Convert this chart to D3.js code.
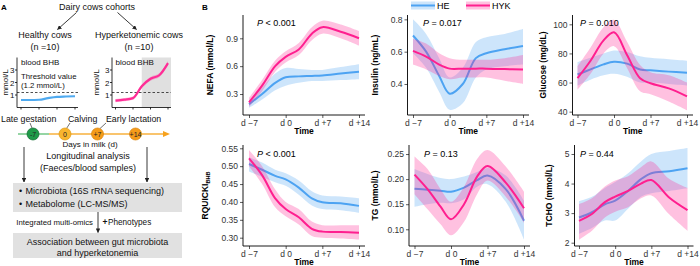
<!DOCTYPE html>
<html><head><meta charset="utf-8">
<script src="https://cdn.jsdelivr.net/npm/d3@7"></script>
<style>body{margin:0;background:#fff}svg{display:block}text{font-family:"Liberation Sans",Arial,Helvetica,sans-serif}</style>
</head><body><svg id="c" width="700" height="266"></svg>
<script>
// ---------------- DATA ----------------
const days = [-7, -4.5, -2, 0, 2.5, 5, 7, 10.5, 14];
const xTickDays = [-7, 0, 7, 14];
const xTickLabels = ["d \u22127", "d 0", "d +7", "d +14"];
const groups = ["HE", "HYK"];

const nefaHE    = [0.19, 0.30, 0.42, 0.48, 0.49, 0.495, 0.50, 0.52, 0.54];
const nefaHElo  = [0.15, 0.24, 0.34, 0.39, 0.42, 0.44, 0.44, 0.45, 0.46];
const nefaHEhi  = [0.23, 0.37, 0.52, 0.58, 0.57, 0.56, 0.56, 0.59, 0.62];
const nefaHYK   = [0.21, 0.39, 0.60, 0.70, 0.78, 0.95, 1.02, 0.97, 0.90];
const nefaHYKlo = [0.16, 0.33, 0.54, 0.64, 0.72, 0.88, 0.95, 0.90, 0.82];
const nefaHYKhi = [0.26, 0.45, 0.66, 0.76, 0.85, 1.02, 1.09, 1.05, 0.98];

const insHE    = [0.70, 0.60, 0.45, 0.34, 0.40, 0.56, 0.59, 0.615, 0.635];
const insHElo  = [0.59, 0.50, 0.35, 0.24, 0.28, 0.44, 0.49, 0.51, 0.52];
const insHEhi  = [0.80, 0.71, 0.56, 0.44, 0.50, 0.66, 0.69, 0.71, 0.74];
const insHYK   = [0.605, 0.57, 0.52, 0.495, 0.495, 0.495, 0.495, 0.492, 0.49];
const insHYKlo = [0.52, 0.49, 0.45, 0.43, 0.44, 0.44, 0.44, 0.42, 0.40];
const insHYKhi = [0.68, 0.65, 0.59, 0.56, 0.55, 0.55, 0.55, 0.56, 0.58];

const gluHE    = [65.5, 69, 72.5, 74.3, 73, 69, 68.4, 67.5, 66.8];
const gluHElo  = [58, 62, 65, 66, 64, 60, 60, 59, 58];
const gluHEhi  = [74, 77, 80, 82, 81, 78, 77, 76, 75];
const gluHYK   = [63, 75, 89, 94.5, 79, 63, 59.5, 56, 50.5];
const gluHYKlo = [55, 66, 80, 85, 70, 54, 52, 47, 41];
const gluHYKhi = [71, 84, 98, 103, 88, 72, 67, 65, 60];

const rqHE    = [0.506, 0.49, 0.473, 0.463, 0.44, 0.41, 0.399, 0.396, 0.389];
const rqHElo  = [0.485, 0.47, 0.455, 0.445, 0.42, 0.39, 0.38, 0.377, 0.37];
const rqHEhi  = [0.525, 0.51, 0.49, 0.48, 0.46, 0.43, 0.418, 0.415, 0.41];
const rqHYK   = [0.522, 0.475, 0.41, 0.38, 0.357, 0.325, 0.317, 0.316, 0.314];
const rqHYKlo = [0.50, 0.45, 0.385, 0.36, 0.337, 0.305, 0.30, 0.298, 0.295];
const rqHYKhi = [0.545, 0.50, 0.435, 0.40, 0.38, 0.345, 0.335, 0.335, 0.335];

const tgHE    = [0.181, 0.179, 0.177, 0.175, 0.183, 0.198, 0.207, 0.18, 0.117];
const tgHElo  = [0.145, 0.15, 0.153, 0.152, 0.16, 0.185, 0.19, 0.155, 0.08];
const tgHEhi  = [0.22, 0.21, 0.202, 0.20, 0.205, 0.214, 0.222, 0.207, 0.157];
const tgHYK   = [0.209, 0.18, 0.145, 0.12, 0.15, 0.205, 0.226, 0.193, 0.142];
const tgHYKlo = [0.17, 0.14, 0.11, 0.088, 0.115, 0.17, 0.197, 0.165, 0.113];
const tgHYKhi = [0.245, 0.22, 0.18, 0.155, 0.185, 0.24, 0.258, 0.225, 0.175];

const tchoHE    = [2.85, 3.03, 3.30, 3.42, 3.75, 4.15, 4.35, 4.42, 4.52];
const tchoHElo  = [2.30, 2.50, 2.75, 2.75, 3.15, 3.55, 3.67, 3.75, 3.84];
const tchoHEhi  = [3.40, 3.55, 3.85, 4.05, 4.35, 4.75, 5.00, 5.10, 5.20];
const tchoHYK   = [2.74, 2.97, 3.37, 3.56, 3.75, 4.00, 4.12, 3.52, 3.10];
const tchoHYKlo = [2.10, 2.40, 2.85, 3.05, 3.20, 3.50, 3.60, 2.95, 2.40];
const tchoHYKhi = [3.30, 3.50, 3.90, 4.10, 4.25, 4.55, 4.75, 4.15, 3.85];

// panel A mini charts (blood BHB)
const bhbDays = [-7, -3.5, 0, 3.5, 7, 10.5, 14];
const bhbHealthy = [0.6, 0.6, 0.62, 0.75, 0.85, 0.88, 0.9];
const bhbHyper   = [0.55, 0.63, 0.75, 1.7, 2.3, 2.58, 3.55];
const bhbHyperLo = [0.42, 0.5, 0.62, 1.55, 2.15, 2.42, 3.38];
const bhbHyperHi = [0.68, 0.76, 0.88, 1.85, 2.45, 2.74, 3.72];
const bhbThreshold = 1.2;
const bhbTicks = [1, 2, 3];
const hyperStartDay = 3.5;

// timeline
const tlDays = [-7, 0, 7, 14];
const tlLabels = ["-7", "0", "+7", "+14"];

// ---------------- DRAW ----------------
const svg = d3.select("#c");
const COL = {HE: "#4da3f2", HYK: "#ff1f8f"};
const INK = "#222";
const CURVE = d3.curveCatmullRom.alpha(0.5);

const panels = [
  {title: "NEFA (mmol/L)", p: "< 0.001", dom: [0.074, 1.151], ticks: [0.3, 0.6, 0.9], fmt: d3.format(".1f"),
   ax: 243, x0: 249, x1: 359, top: 15, bottom: 115, labX: 213, pX: 257, pY: 25.5,
   s: {HE: [nefaHE, nefaHElo, nefaHEhi], HYK: [nefaHYK, nefaHYKlo, nefaHYKhi]}},
  {title: "Insulin (ng/mL)", p: "= 0.017", dom: [0.208, 0.827], ticks: [0.4, 0.6, 0.8], fmt: d3.format(".1f"),
   ax: 407.5, x0: 413, x1: 523, top: 15, bottom: 115, labX: 378, pX: 423, pY: 25.5,
   s: {HE: [insHE, insHElo, insHEhi], HYK: [insHYK, insHYKlo, insHYKhi]}},
  {title: "Glucose (mg/dL)", p: "= 0.010", dom: [37.7, 106.4], ticks: [40, 60, 80, 100], fmt: d3.format("d"),
   ax: 572.5, x0: 577.5, x1: 687, top: 15, bottom: 115, labX: 546, pX: 580, pY: 25.5,
   s: {HE: [gluHE, gluHElo, gluHEhi], HYK: [gluHYK, gluHYKlo, gluHYKhi]}},
  {title: "RQUICKI", sub: "BHB", p: "< 0.001", dom: [0.2768, 0.5592], ticks: [0.30, 0.35, 0.40, 0.45, 0.50, 0.55], fmt: d3.format(".2f"),
   ax: 243, x0: 249, x1: 359, top: 145, bottom: 246, labX: 207.5, pX: 257, pY: 157,
   s: {HE: [rqHE, rqHElo, rqHEhi], HYK: [rqHYK, rqHYKlo, rqHYKhi]}},
  {title: "TG (mmol/L)", p: "= 0.13", dom: [0.0667, 0.268], ticks: [0.10, 0.15, 0.20, 0.25], fmt: d3.format(".2f"),
   ax: 409, x0: 414.5, x1: 524, top: 145, bottom: 246, labX: 378, pX: 424, pY: 157,
   s: {HE: [tgHE, tgHElo, tgHEhi], HYK: [tgHYK, tgHYKlo, tgHYKhi]}},
  {title: "TCHO (mmol/L)", p: "= 0.44", dom: [1.888, 5.304], ticks: [2, 3, 4, 5], fmt: d3.format("d"),
   ax: 574.5, x0: 579, x1: 687.5, top: 145, bottom: 246, labX: 551.5, pX: 580, pY: 157,
   s: {HE: [tchoHE, tchoHElo, tchoHEhi], HYK: [tchoHYK, tchoHYKlo, tchoHYKhi]}}
];

const defs = svg.append("defs");
defs.append("marker").attr("id", "arr").attr("viewBox", "0 0 10 10").attr("refX", 9).attr("refY", 5)
  .attr("markerWidth", 5).attr("markerHeight", 5).attr("orient", "auto-start-reverse")
  .append("path").attr("d", "M0,0 L10,5 L0,10 z").attr("fill", INK);

panels.forEach((c, i) => {
  const x = d3.scaleLinear().domain([-7, 14]).range([c.x0, c.x1]);
  const y = d3.scaleLinear().domain(c.dom).range([c.bottom, c.top]);
  const right = c.x1 + 6;
  defs.append("clipPath").attr("id", "cp" + i).append("rect")
    .attr("x", c.ax).attr("y", c.top).attr("width", right - c.ax).attr("height", c.bottom - c.top);
  const g = svg.append("g").attr("clip-path", `url(#cp${i})`);
  groups.forEach(gr => {
    const [m, lo, hi] = c.s[gr];
    const pts = days.map((d, k) => ({d, m: m[k], lo: lo[k], hi: hi[k]}));
    g.append("path").datum(pts)
      .attr("d", d3.area().x(p => x(p.d)).y0(p => y(p.lo)).y1(p => y(p.hi)).curve(CURVE))
      .attr("fill", COL[gr]).attr("fill-opacity", 0.28);
    g.append("path").datum(pts)
      .attr("d", d3.line().x(p => x(p.d)).y(p => y(p.m)).curve(CURVE))
      .attr("fill", "none").attr("stroke", COL[gr]).attr("stroke-width", 2);
  });
  // axes
  const ya = svg.append("g").attr("transform", `translate(${c.ax},0)`)
    .call(d3.axisLeft(y).tickValues(c.ticks).tickFormat(c.fmt).tickSize(3).tickPadding(2).tickSizeOuter(0));
  ya.select(".domain").remove();
  const xa = svg.append("g").attr("transform", `translate(0,${c.bottom})`)
    .call(d3.axisBottom(x).tickValues(xTickDays).tickFormat((d, k) => xTickLabels[k]).tickSize(3).tickPadding(2).tickSizeOuter(0));
  xa.select(".domain").remove();
  [ya, xa].forEach(a => {
    a.selectAll("text").attr("font-size", 8.5).attr("fill", "#333").attr("font-family", null);
    a.selectAll(".tick line").attr("stroke", "#333").attr("stroke-width", 0.8);
  });
  svg.append("line").attr("x1", c.ax).attr("x2", c.ax).attr("y1", c.top).attr("y2", c.bottom)
    .attr("stroke", "#000").attr("stroke-width", 0.9);
  svg.append("line").attr("x1", c.ax).attr("x2", right).attr("y1", c.bottom).attr("y2", c.bottom)
    .attr("stroke", "#000").attr("stroke-width", 0.9);
  // titles
  svg.append("text").attr("x", (c.ax + right) / 2).attr("y", c.bottom + 19).attr("text-anchor", "middle")
    .attr("font-size", 8.5).attr("font-weight", "bold").attr("fill", "#000").text("Time");
  const yt = svg.append("text").attr("transform", `translate(${c.labX},${(c.top + c.bottom) / 2}) rotate(-90)`)
    .attr("text-anchor", "middle").attr("font-size", 8.5).attr("font-weight", "bold").attr("fill", "#000");
  yt.append("tspan").text(c.title);
  if (c.sub) yt.append("tspan").attr("font-size", 5.5).attr("dy", 2).text(c.sub);
  const pt = svg.append("text").attr("x", c.pX).attr("y", c.pY).attr("font-size", 9).attr("fill", "#000");
  pt.append("tspan").attr("font-style", "italic").text("P");
  pt.append("tspan").text(" " + c.p);
});

// legend
[["HE", 411, 437], ["HYK", 466, 492]].forEach(([gr, lx, tx]) => {
  svg.append("rect").attr("x", lx).attr("y", 1.5).attr("width", 24).attr("height", 8)
    .attr("fill", COL[gr]).attr("fill-opacity", 0.28);
  svg.append("line").attr("x1", lx).attr("x2", lx + 24).attr("y1", 5.5).attr("y2", 5.5)
    .attr("stroke", COL[gr]).attr("stroke-width", 2);
  svg.append("text").attr("x", tx).attr("y", 9).attr("font-size", 9).attr("fill", "#000").text(gr);
});

// panel letters
svg.append("text").attr("x", 1).attr("y", 10).attr("font-size", 8).attr("font-weight", "bold").text("A");
svg.append("text").attr("x", 202).attr("y", 10).attr("font-size", 8).attr("font-weight", "bold").text("B");

// ---------------- PANEL A ----------------
function txt(x, y, s, size, anchor, extra) {
  const t = svg.append("text").attr("x", x).attr("y", y).attr("font-size", size)
    .attr("text-anchor", anchor || "start").attr("fill", "#111").text(s);
  if (extra) extra(t);
  return t;
}
function arrow(x1, y1, x2, y2) {
  svg.append("line").attr("x1", x1).attr("y1", y1).attr("x2", x2).attr("y2", y2)
    .attr("stroke", INK).attr("stroke-width", 0.9).attr("marker-end", "url(#arr)");
}
txt(97, 9.5, "Dairy cows cohorts", 9, "middle");
arrow(76.5, 12.5, 57.5, 29.5);
arrow(117.5, 12.5, 136.5, 29.5);
txt(45, 38, "Healthy cows", 9, "middle");
txt(45, 50, "(n =10)", 9, "middle");
txt(139, 38, "Hyperketonemic cows", 9, "middle");
txt(139, 50, "(n =10)", 9, "middle");

function mini(ax, x0, x1, labX, series, band, shade) {
  const top = 57.5, bottom = 107.5, right = x1 + 3;
  const x = d3.scaleLinear().domain([-7, 14]).range([x0, x1]);
  const y = d3.scaleLinear().domain([0, 4]).range([bottom, top]);
  if (shade) svg.append("rect").attr("x", x(hyperStartDay)).attr("y", top)
    .attr("width", right - x(hyperStartDay)).attr("height", bottom - top).attr("fill", "#e0e0e0");
  svg.append("line").attr("x1", ax).attr("x2", right).attr("y1", y(bhbThreshold)).attr("y2", y(bhbThreshold))
    .attr("stroke", "#222").attr("stroke-width", 0.8).attr("stroke-dasharray", "2.5,2");
  const pts = bhbDays.map((d, k) => ({d, v: series.v[k], lo: band ? band.lo[k] : 0, hi: band ? band.hi[k] : 0}));
  if (band) svg.append("path").datum(pts)
    .attr("d", d3.area().x(p => x(p.d)).y0(p => y(p.lo)).y1(p => y(p.hi)).curve(d3.curveMonotoneX))
    .attr("fill", series.c).attr("fill-opacity", 0.3);
  svg.append("path").datum(pts)
    .attr("d", d3.line().x(p => x(p.d)).y(p => y(p.v)).curve(d3.curveMonotoneX))
    .attr("fill", "none").attr("stroke", series.c).attr("stroke-width", 2.2);
  svg.append("line").attr("x1", ax).attr("x2", ax).attr("y1", top).attr("y2", bottom).attr("stroke", "#000").attr("stroke-width", 0.8);
  svg.append("line").attr("x1", ax).attr("x2", right).attr("y1", bottom).attr("y2", bottom).attr("stroke", "#000").attr("stroke-width", 0.8);
  bhbTicks.forEach(t => {
    svg.append("line").attr("x1", ax - 2).attr("x2", ax).attr("y1", y(t)).attr("y2", y(t)).attr("stroke", "#000").attr("stroke-width", 0.8);
    txt(ax - 2.5, y(t) + 3, String(t), 8, "end");
  });
  xTickDays.forEach(d => {
    svg.append("line").attr("x1", x(d)).attr("x2", x(d)).attr("y1", bottom).attr("y2", bottom + 2).attr("stroke", "#000").attr("stroke-width", 0.8);
  });
  svg.append("text").attr("transform", `translate(${labX},82.5) rotate(-90)`).attr("text-anchor", "middle")
    .attr("font-size", 8).attr("fill", "#111").text("mmol/L");
  txt(x0, 65, "blood BHB", 8, "start");
}
mini(17, 21, 75, 7.5, {v: bhbHealthy, c: "#4faaf0"}, null, false);
txt(21, 79, "Threshold value", 7.8, "start");
txt(21, 87.5, "(1.2 mmol/L)", 7.8, "start");
mini(112, 115.5, 168, 98.5, {v: bhbHyper, c: "#ff2d96"}, {lo: bhbHyperLo, hi: bhbHyperHi}, true);

// timeline
const tx = d3.scaleLinear().domain(tlDays).range([33, 65, 97.5, 135.5]);
const tly = 134;
txt(1, 121.5, "Late gestation", 8.8, "start");
txt(68, 121.5, "Calving", 8.8, "start");
txt(106, 121.5, "Early lactation", 8.8, "start");
[[30, 123, 32, 128], [70, 123, 66.5, 128.5], [106, 123, 100, 128.5]].forEach(l =>
  svg.append("line").attr("x1", l[0]).attr("y1", l[1]).attr("x2", l[2]).attr("y2", l[3]).attr("stroke", "#333").attr("stroke-width", 0.7));
svg.append("line").attr("x1", 18).attr("x2", tx(-3.5)).attr("y1", tly).attr("y2", tly).attr("stroke", "#5cbf73").attr("stroke-width", 1.3);
svg.append("line").attr("x1", tx(-3.5)).attr("x2", 166).attr("y1", tly).attr("y2", tly).attr("stroke", "#f7b13d").attr("stroke-width", 1.3);
svg.append("path").attr("d", `M163,${tly - 3} L170,${tly} L163,${tly + 3} Z`).attr("fill", "#f7a21d");
const dotFill = ["#1e9a48", "#f9b52e", "#f59b1a", "#f59b1a"];
const dotStroke = ["#0f6b2e", "#e09a10", "#d9820a", "#d9820a"];
tlDays.forEach((d, k) => {
  svg.append("circle").attr("cx", tx(d)).attr("cy", tly).attr("r", 6).attr("fill", dotFill[k]).attr("stroke", dotStroke[k]).attr("stroke-width", 0.7);
  txt(tx(d), tly + 2.5, tlLabels[k], 7, "middle", t => t.attr("fill", "#222"));
});
txt(90, 146.5, "Days in milk (d)", 8, "middle");
txt(88, 159, "Longitudinal analysis", 9, "middle");
txt(88, 171, "(Faeces/blood samples)", 9, "middle");
arrow(24, 147, 24, 182);
arrow(147, 147, 147, 182);

svg.append("rect").attr("x", 13).attr("y", 183).attr("width", 169).attr("height", 29).attr("fill", "#e1e1e1");
txt(19, 194, "\u2022", 9, "start");
txt(25.5, 194, "Microbiota (16S rRNA sequencing)", 9, "start");
txt(19, 207, "\u2022", 9, "start");
txt(25.5, 207, "Metabolome (LC-MS/MS)", 9, "start");
txt(93, 225, "Integrated multi-omics", 7.8, "end");
arrow(98, 212, 98, 232.5);
txt(102.5, 225, "+", 8.5, "start", t => t.attr("font-weight", "bold"));
txt(108, 225, "Phenotypes", 8.2, "start");
svg.append("rect").attr("x", 13).attr("y", 233).attr("width", 169).attr("height", 25).attr("fill", "#e1e1e1");
txt(97.5, 244.5, "Association between gut microbiota", 9, "middle");
txt(97.5, 255.5, "and hyperketonemia", 9, "middle");
</script></body></html>
